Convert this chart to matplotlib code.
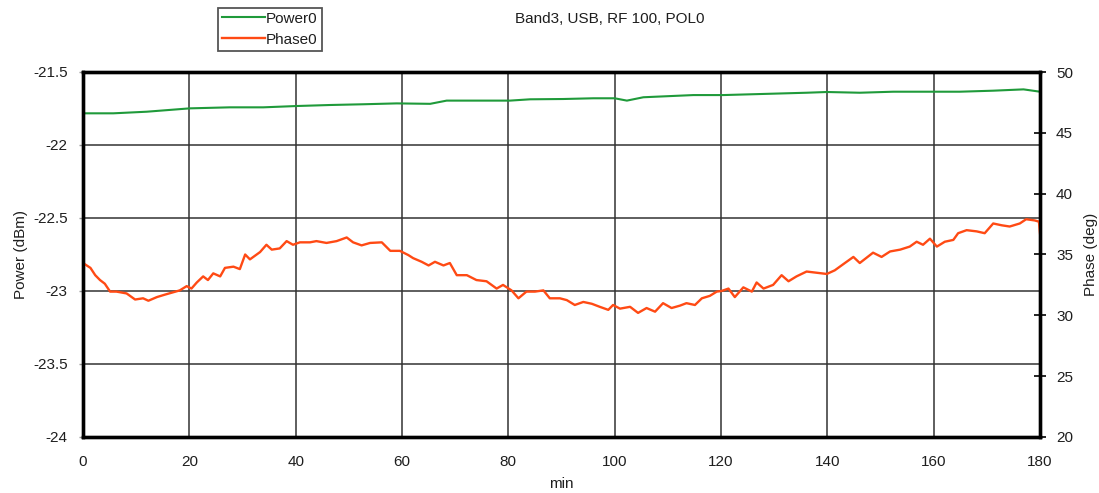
import matplotlib.pyplot as plt
import numpy as np

plt.rcParams['font.family'] = ['Liberation Sans', 'DejaVu Sans']

# power readings (dBm) vs time (min)
power_t = [0.4, 5.7, 12.0, 20.1, 27.6, 33.9, 40.2, 46.5, 52.7, 59.0, 65.3, 68.4,
           74.7, 80.3, 84.1, 90.3, 96.0, 100.0, 102.3, 105.4, 114.8, 120.4, 127.3,
           136.1, 139.9, 146.1, 152.4, 159.9, 164.9, 171.2, 176.9, 180.0]
power_db = [-21.783, -21.783, -21.772, -21.749, -21.742, -21.742, -21.733, -21.726,
            -21.721, -21.715, -21.718, -21.696, -21.696, -21.696, -21.687, -21.685,
            -21.680, -21.680, -21.696, -21.673, -21.658, -21.658, -21.651, -21.642,
            -21.637, -21.642, -21.635, -21.635, -21.635, -21.628, -21.619, -21.635]

# phase readings (deg) vs time (min)
phase_t = [0.0, 1.4, 2.3, 3.2, 4.1, 5.1, 6.3, 8.2, 9.8, 11.3, 12.3, 13.9, 15.4, 17.0,
           18.2, 19.5, 20.4, 21.4, 22.6, 23.5, 24.5, 25.8, 26.7, 28.3, 29.5, 30.5,
           31.4, 33.3, 34.5, 35.5, 37.0, 38.3, 39.5, 40.8, 42.7, 43.9, 45.8, 47.7,
           49.6, 50.8, 52.4, 54.0, 56.2, 57.8, 59.6, 61.2, 62.1, 63.7, 65.0, 66.2,
           67.8, 69.0, 70.3, 72.2, 74.0, 75.9, 77.8, 79.0, 80.6, 81.9, 83.4, 85.0,
           86.6, 87.8, 89.7, 91.0, 92.5, 94.1, 95.7, 97.2, 98.8, 99.7, 101.0, 102.9,
           104.4, 106.0, 107.6, 109.1, 110.7, 112.3, 113.5, 115.1, 116.4, 117.9,
           119.2, 120.1, 121.4, 122.6, 124.2, 125.8, 126.7, 128.0, 129.8, 131.4,
           132.7, 134.2, 136.1, 138.0, 139.9, 141.4, 143.3, 144.9, 146.1, 148.6,
           150.2, 151.8, 153.7, 155.5, 156.8, 158.0, 159.3, 160.6, 162.1, 163.7,
           164.6, 166.2, 168.1, 169.6, 171.2, 172.8, 174.3, 176.2, 177.4, 179.0,
           179.8, 180.0]
phase_deg = [34.3, 33.9, 33.3, 32.9, 32.6, 31.95, 31.95, 31.8, 31.3, 31.4, 31.2, 31.5,
             31.7, 31.9, 32.05, 32.4, 32.2, 32.7, 33.2, 32.9, 33.45, 33.2, 33.9, 34.0,
             33.8, 35.0, 34.6, 35.2, 35.8, 35.4, 35.5, 36.1, 35.8, 36.0, 36.0, 36.1,
             35.95, 36.1, 36.4, 36.0, 35.75, 35.95, 36.0, 35.3, 35.3, 34.95, 34.7,
             34.4, 34.1, 34.4, 34.1, 34.3, 33.3, 33.3, 32.9, 32.8, 32.2, 32.5, 32.05,
             31.4, 31.95, 31.95, 32.05, 31.4, 31.4, 31.25, 30.85, 31.1, 30.95, 30.7,
             30.45, 30.85, 30.55, 30.7, 30.2, 30.6, 30.3, 31.0, 30.6, 30.8, 31.0,
             30.85, 31.4, 31.6, 31.95, 32.0, 32.2, 31.5, 32.3, 31.95, 32.7, 32.2, 32.5,
             33.3, 32.8, 33.2, 33.6, 33.5, 33.4, 33.7, 34.3, 34.8, 34.3, 35.15, 34.8,
             35.25, 35.4, 35.65, 36.05, 35.8, 36.3, 35.65, 36.05, 36.2, 36.75, 37.0,
             36.9, 36.75, 37.55, 37.4, 37.3, 37.55, 37.9, 37.8, 37.7, 36.75]

x_ticks = np.arange(0, 181, 20)
power_ticks = [-24, -23.5, -23, -22.5, -22, -21.5]
power_labels = ['-24', '-23.5', '-23', '-22.5', '-22', '-21.5']
phase_ticks = np.arange(20, 51, 5)

fs = 11
txt = '#1e1e1e'

fig = plt.figure(figsize=(10.99, 4.93), dpi=100)
ax = fig.add_axes([83 / 1099, 1 - 437 / 493, (1040 - 83) / 1099, (437 - 72) / 493])
ax2 = ax.twinx()

lp, = ax.plot(power_t, power_db, color='#1f9a3a', lw=1.5, label='Power0')
lph, = ax2.plot(phase_t, phase_deg, color='#ff4a14', lw=1.7, label='Phase0')

ax.set_xlim(0, 180)
ax.set_ylim(-24, -21.5)
ax2.set_ylim(20, 50)
ax.set_xticks(x_ticks)
ax.set_yticks(power_ticks)
ax.set_yticklabels(power_labels)
ax2.set_yticks(phase_ticks)

ax.set_axisbelow(True)
ax.grid(True, color='#333333', lw=1.1)

for a in (ax, ax2):
    for s in a.spines.values():
        s.set_linewidth(2.4)
        s.set_color('black')

ax.tick_params(axis='x', length=0, pad=13, labelsize=fs, labelcolor=txt)
ax.tick_params(axis='y', direction='out', length=3, width=1, pad=8,
               labelsize=fs, labelcolor=txt, color='#999999')
ax2.tick_params(axis='y', direction='inout', length=9, width=1.2, pad=7,
                labelsize=fs, labelcolor=txt, color='black')

ax.set_xlabel('min', fontsize=fs, color=txt, labelpad=6)
ax.set_ylabel('Power (dBm)', fontsize=fs, color=txt, labelpad=4)
ax2.set_ylabel('Phase (deg)', fontsize=fs, color=txt, labelpad=8)

fig.text(610 / 1099, 1 - 19 / 493, 'Band3, USB, RF 100, POL0', ha='center', va='center',
         fontsize=fs, color=txt)

leg = fig.legend([lp, lph], ['Power0', 'Phase0'], loc='upper left',
                 bbox_to_anchor=(218 / 1099, 1 - 8 / 493), fontsize=fs,
                 handlelength=2.8, handletextpad=0.1, borderpad=0.25,
                 labelspacing=0.45, fancybox=False, framealpha=1, borderaxespad=0)
leg.get_frame().set_edgecolor('#555555')
leg.get_frame().set_linewidth(1.3)
for t in leg.get_texts():
    t.set_color(txt)

fig.savefig('out.png', dpi=100)
